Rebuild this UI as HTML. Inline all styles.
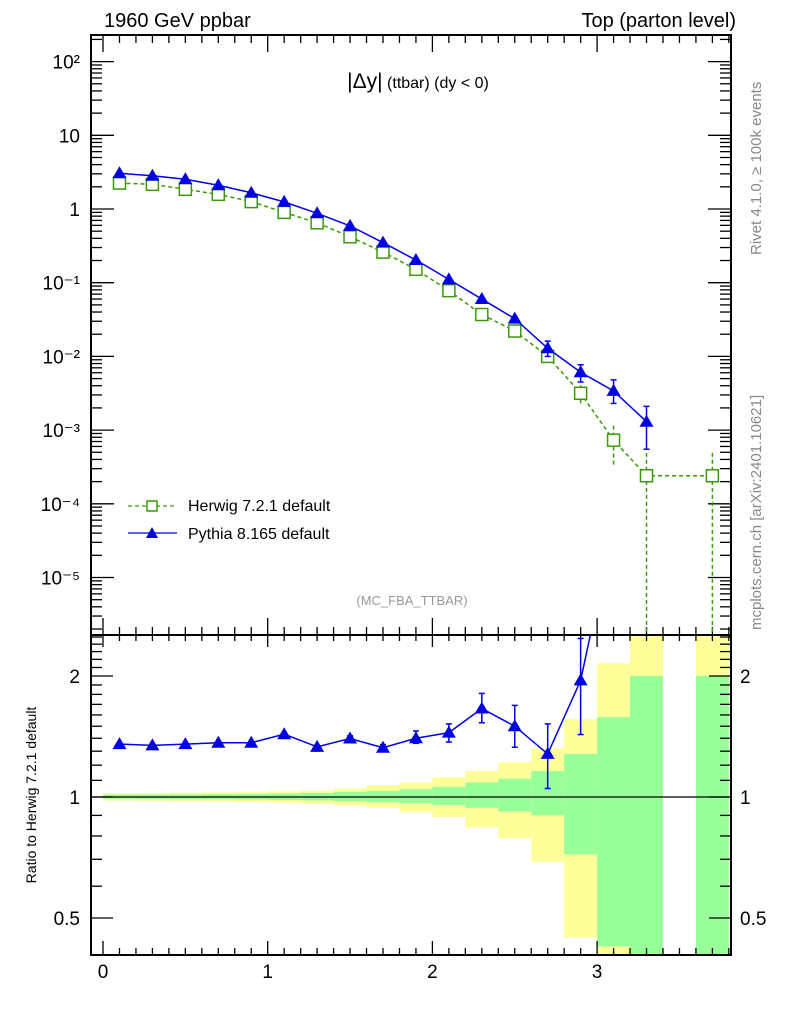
<!DOCTYPE html>
<html><head><meta charset="utf-8"><style>
html,body{margin:0;background:#fff;overflow:hidden;width:786px;height:1024px}
svg{display:block}
svg text{font-family:"Liberation Sans",sans-serif}
</style></head><body>
<svg id="c" width="786" height="1024" viewBox="0 0 786 1024" xmlns="http://www.w3.org/2000/svg">
<text x="104" y="27" font-size="20">1960 GeV ppbar</text>
<text x="736" y="27" font-size="20" text-anchor="end">Top (parton level)</text>
<text x="418" y="88" font-size="16" text-anchor="middle"><tspan font-size="21">|Δy|</tspan> (ttbar) (dy &lt; 0)</text>
<text x="412" y="605" font-size="13" fill="#999" text-anchor="middle">(MC_FBA_TTBAR)</text>
<text transform="translate(761,255) rotate(-90)" font-size="15" fill="#888">Rivet 4.1.0, ≥ 100k events</text>
<text transform="translate(761,630) rotate(-90)" font-size="15" fill="#888">mcplots.cern.ch [arXiv:2401.10621]</text>
<text transform="translate(36,795) rotate(-90)" font-size="14" text-anchor="middle">Ratio to Herwig 7.2.1 default</text>
<g id="legend">
<g><line x1="128" y1="506" x2="177" y2="506" stroke="#3a9a0a" stroke-width="1.3" stroke-dasharray="4,3"/><rect x="147" y="501" width="10" height="10" fill="#fff" stroke="#3a9a0a" stroke-width="1.5"/><text x="188" y="511" font-size="16">Herwig 7.2.1 default</text></g>
<g><line x1="128" y1="533" x2="177" y2="533" stroke="#0000e0" stroke-width="1.3"/><path d="M152,527 L158,538 L146,538 Z" fill="#0000e0"/><text x="188" y="539" font-size="16">Pythia 8.165 default</text></g>
</g>
</svg>
<script>
const binCenters=[0.1,0.3,0.5,0.7,0.9,1.1,1.3,1.5,1.7,1.9,2.1,2.3,2.5,2.7,2.9,3.1,3.3,3.5,3.7];
const herwigVals=[2.25,2.16,1.85,1.58,1.26,0.9,0.65,0.42,0.26,0.152,0.078,0.037,0.0221,0.0100,0.00316,0.00073,0.00024,0,0.00024];
const herwigErrUp=[0,0,0,0,0,0,0,0,0,0,0,0,0.001,0.0012,0.0009,0.00042,0.00025,0,0.00025];
const herwigErrDn=[0,0,0,0,0,0,0,0,0,0,0,0,0.001,0.0012,0.0009,0.00042,0.00024,0,0.00024];
const pythiaVals=[3.05,2.83,2.53,2.1,1.66,1.25,0.875,0.59,0.35,0.203,0.111,0.060,0.0325,0.0129,0.0061,0.0034,0.0013];
const pythiaErrUp=[0,0,0,0,0,0,0,0,0,0.008,0.005,0.003,0.002,0.0032,0.0016,0.0014,0.0008];
const pythiaErrDn=[0,0,0,0,0,0,0,0,0,0.008,0.005,0.003,0.002,0.0029,0.0016,0.0011,0.00075];
const ratioVals=[1.354,1.344,1.354,1.364,1.364,1.433,1.333,1.398,1.326,1.40,1.446,1.66,1.50,1.28,1.95,4.7];
const ratioErrHi=[1.36,1.35,1.36,1.37,1.37,1.44,1.345,1.42,1.35,1.46,1.52,1.81,1.69,1.52,2.48,9];
const ratioErrLo=[1.348,1.338,1.348,1.358,1.358,1.425,1.325,1.378,1.30,1.36,1.37,1.53,1.33,1.05,1.43,4];
const yellowHi=[1.02,1.022,1.024,1.026,1.028,1.032,1.036,1.05,1.07,1.087,1.12,1.16,1.22,1.32,1.56,2.15,9,null,9];
const yellowLo=[0.98,0.978,0.976,0.974,0.972,0.968,0.962,0.953,0.94,0.917,0.89,0.84,0.79,0.69,0.447,0.1,0.1,null,0.1];
const greenHi=[1.013,1.014,1.015,1.016,1.018,1.02,1.024,1.03,1.035,1.046,1.06,1.087,1.11,1.16,1.28,1.58,2.0,null,2.0];
const greenLo=[0.99,0.989,0.988,0.987,0.986,0.984,0.98,0.976,0.97,0.966,0.955,0.94,0.92,0.9,0.72,0.425,0.1,null,0.1];
const xTicks=[0,1,2,3];
const topTickLabels=["10²","10","1","10⁻¹","10⁻²","10⁻³","10⁻⁴","10⁻⁵"];
const topTickExps=[2,1,0,-1,-2,-3,-4,-5];
const ratioTicks=[0.5,1,2];

const NS="http://www.w3.org/2000/svg",svg=document.getElementById('c');
function el(t,a,p){const e=document.createElementNS(NS,t);for(const k in a)e.setAttribute(k,a[k]);(p||svg).appendChild(e);return e;}
const L=91,R=731,T=35,M=635,B=955;
const X=v=>103+v*164.7;
const Y=v=>209-73.7*Math.log10(v);
const RY=v=>797-402*Math.log10(v);
const bw=0.2;
const defs=el('defs',{});
const cp=el('clipPath',{id:'rc'},defs);el('rect',{x:L,y:M,width:R-L,height:B-M},cp);
const cp2=el('clipPath',{id:'tc'},defs);el('rect',{x:L,y:T,width:R-L,height:M-T},cp2);
const bands=el('g',{'clip-path':'url(#rc)'});


binCenters.forEach((c,i)=>{
 if(yellowHi[i]==null)return;
 const x0=X(c-bw/2),w=X(c+bw/2)-x0;
 const y=el('rect',{x:x0,y:RY(yellowHi[i]),width:w,height:RY(yellowLo[i])-RY(yellowHi[i]),fill:'#ffff99'},bands);
 
 
 const g=el('rect',{x:x0,y:RY(greenHi[i]),width:w,height:RY(greenLo[i])-RY(greenHi[i]),fill:'#99ff99'},bands);
 
 
});
el('line',{x1:L,y1:RY(1),x2:R,y2:RY(1),stroke:'#000','stroke-width':1.2});
const f1=el('rect',{x:L,y:T,width:R-L,height:M-T,fill:'none',stroke:'#000','stroke-width':2});

const f2=el('rect',{x:L,y:M,width:R-L,height:B-M,fill:'none',stroke:'#000','stroke-width':2});

const tk=el('g',{stroke:'#000','stroke-width':1.3});
for(let k=0;k<=38;k++){const v=k/10,x=X(v),maj=k%10==0;const l=maj?17:8;
 el('line',{x1:x,y1:T,x2:x,y2:T+l},tk);el('line',{x1:x,y1:M,x2:x,y2:M-l},tk);
 el('line',{x1:x,y1:M,x2:x,y2:M+(maj?12:6)},tk);el('line',{x1:x,y1:B,x2:x,y2:B-(maj?14:7)},tk);}
xTicks.forEach(v=>{const t=el('text',{x:X(v),y:978,'font-size':19,'text-anchor':'middle'});t.textContent=v;
 });
for(let e=-6;e<=2;e++){for(let m=1;m<=9;m++){const v=m*Math.pow(10,e),y=Y(v);if(y<T||y>M)continue;const l=m==1?23:11;
 el('line',{x1:L,y1:y,x2:L+l,y2:y},tk);el('line',{x1:R,y1:y,x2:R-l,y2:y},tk);}}
topTickExps.forEach((e,i)=>{const t=el('text',{x:80,y:Y(Math.pow(10,e))+7,'font-size':19,'text-anchor':'end'});t.textContent=topTickLabels[i];
 });
for(let k=4;k<=25;k++){const v=k/10,y=RY(v);if(y<M||y>B)continue;const maj=(k==5||k==10||k==20);const l=maj?22:11;
 el('line',{x1:L,y1:y,x2:L+l,y2:y},tk);el('line',{x1:R,y1:y,x2:R-l,y2:y},tk);}
ratioTicks.forEach(v=>{[80,740].forEach(x=>{const t=el('text',{x:x,y:RY(v)+7,'font-size':19,'text-anchor':x<100?'end':'start'});t.textContent=v;
 });});
const hg=el('g',{'clip-path':'url(#tc)',stroke:'#3a9a0a','stroke-width':1.5,fill:'none'});

let pts=[];binCenters.forEach((c,i)=>{if(herwigVals[i]>0)pts.push(X(c)+','+Y(herwigVals[i]));});
el('polyline',{points:pts.join(' '),'stroke-dasharray':'4,3'},hg);
binCenters.forEach((c,i)=>{const v=herwigVals[i];if(!(v>0))return;const x=X(c),y=Y(v);
 if(herwigErrUp[i]>0){const lo=v-herwigErrDn[i];el('line',{x1:x,y1:Y(v+herwigErrUp[i]),x2:x,y2:lo>0?Y(lo):M,'stroke-dasharray':'4,3'},hg);}
 const r=el('rect',{x:x-6,y:y-6,width:12,height:12,fill:'#fff'},hg);
 });
const pg=el('g',{'clip-path':'url(#tc)',stroke:'#0000e0','stroke-width':1.5,fill:'#0000e0'});

el('polyline',{points:pythiaVals.map((v,i)=>X(binCenters[i])+','+Y(v)).join(' '),fill:'none'},pg);
pythiaVals.forEach((v,i)=>{const x=X(binCenters[i]),y=Y(v);
 if(pythiaErrUp[i]>0){const a=Y(v+pythiaErrUp[i]),b=Y(v-pythiaErrDn[i]);el('line',{x1:x,y1:a,x2:x,y2:b},pg);el('line',{x1:x-3,y1:a,x2:x+3,y2:a},pg);el('line',{x1:x-3,y1:b,x2:x+3,y2:b},pg);}
 const p=el('path',{d:`M${x},${y-7} L${x+7},${y+5} L${x-7},${y+5} Z`,stroke:'none'},pg);
 });
const rg=el('g',{'clip-path':'url(#rc)',stroke:'#0000e0','stroke-width':1.5,fill:'#0000e0'});

el('polyline',{points:ratioVals.map((v,i)=>X(binCenters[i])+','+RY(v)).join(' '),fill:'none'},rg);
ratioVals.forEach((v,i)=>{const x=X(binCenters[i]),y=RY(v);
 const a=RY(ratioErrHi[i]),b=RY(ratioErrLo[i]);if(b-a>3){el('line',{x1:x,y1:a,x2:x,y2:b},rg);el('line',{x1:x-3,y1:a,x2:x+3,y2:a},rg);el('line',{x1:x-3,y1:b,x2:x+3,y2:b},rg);}
 const p=el('path',{d:`M${x},${y-7} L${x+7},${y+5} L${x-7},${y+5} Z`,stroke:'none'},rg);
 });
</script>
</body></html>
